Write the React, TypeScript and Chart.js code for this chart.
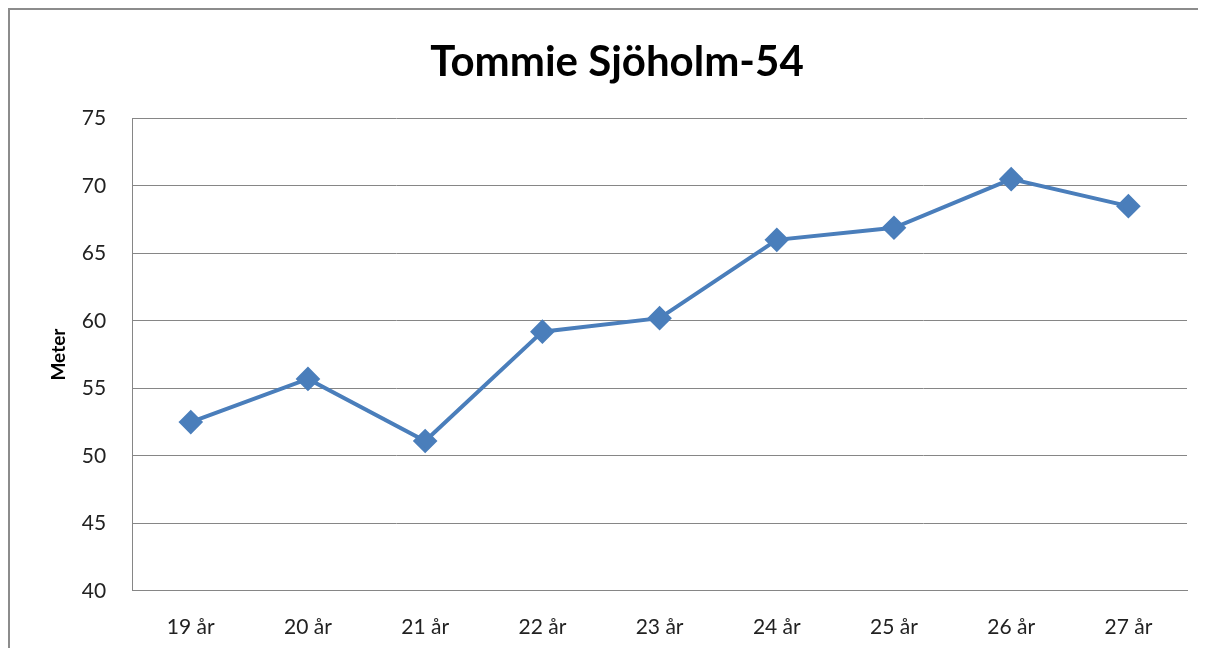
import React, { useEffect, useRef } from "react";
import { Chart, registerables } from "chart.js";

Chart.register(...registerables);

const categories = ["19 år", "20 år", "21 år", "22 år", "23 år", "24 år", "25 år", "26 år", "27 år"];
const values = [52.5, 55.7, 51.1, 59.2, 60.2, 66.0, 66.9, 70.5, 68.5];
const titleText = "Tommie Sjöholm-54";
const yTitle = "Meter";

export default function App() {
  const ref = useRef<HTMLCanvasElement | null>(null);
  useEffect(() => {
    document.documentElement.style.overflow = "hidden";
    document.body.style.overflow = "hidden";
    if (!ref.current) return;
    const chart = new Chart(ref.current, {
      type: "line",
      data: {
        labels: categories,
        datasets: [
          {
            data: values,
            borderColor: "#4a7ebb",
            backgroundColor: "#4a7ebb",
            borderWidth: 4,
            pointStyle: "rectRot",
            pointRadius: 9.5,
            pointHoverRadius: 9.5,
            tension: 0,
          },
        ],
      },
      options: {
        responsive: true,
        maintainAspectRatio: false,
        animation: false,
        layout: { padding: { top: 27, right: 19, left: 37, bottom: -14 } },
        plugins: {
          legend: { display: false },
          tooltip: { enabled: false },
          title: {
            display: true,
            text: titleText,
            color: "#000",
            font: { family: "Lato", size: 42, weight: "bold" },
            padding: { top: 0, bottom: 31 },
          },
        },
        scales: {
          x: {
            offset: true,
            grid: { display: false, drawTicks: false },
            border: { display: true, color: "#868686", width: 1 },
            ticks: {
              color: "#222",
              font: { family: "Lato", size: 21 },
              padding: 24,
              maxRotation: 0,
            },
          },
          y: {
            min: 40,
            max: 75,
            grid: { color: "#868686", lineWidth: 1, drawTicks: false },
            border: { display: true, color: "#868686", width: 1 },
            ticks: {
              stepSize: 5,
              color: "#222",
              font: { family: "Lato", size: 21 },
              padding: 26,
            },
            title: {
              display: true,
              text: yTitle,
              color: "#000",
              font: { family: "Lato", size: 19, weight: "bold" },
              padding: { top: 0, bottom: -14 },
            },
          },
        },
      },
    });
    return () => chart.destroy();
  }, []);
  return (
    <div
      style={{
        borderTop: "2px solid #8c8c8c",
        borderLeft: "2px solid #8c8c8c",
        width: 1196,
        height: 640,
        background: "#fff",
      }}
    >
      <canvas ref={ref} />
    </div>
  );
}
